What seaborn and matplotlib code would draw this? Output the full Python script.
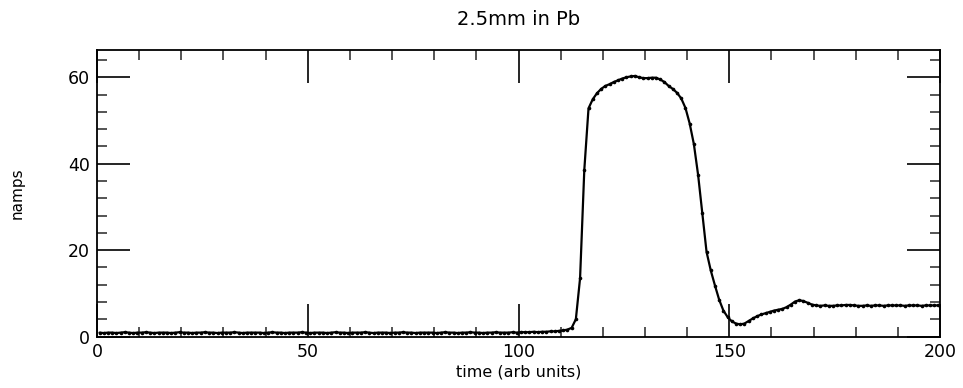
import numpy as np
import pandas as pd
import seaborn as sns
import matplotlib
matplotlib.use("Agg")
import matplotlib.pyplot as plt
from matplotlib.ticker import MultipleLocator

# ---------------- data ----------------
title = "2.5mm in Pb"
x_label = "time (arb units)"
y_label = "namps"
x_ticks = [0, 50, 100, 150, 200]
y_ticks = [0, 20, 40, 60]

# sample times (arb units)
time = [n + 0.6 for n in range(200)]

baseline = [
    0.9, 0.8, 0.9, 0.9, 0.8, 0.9, 1.0, 0.9, 0.8, 0.9,
    0.9, 1.0, 0.9, 0.8, 0.9, 0.9, 0.9, 0.8, 0.9, 1.0,
    0.9, 0.9, 0.8, 0.9, 0.9, 1.0, 0.9, 0.9, 0.8, 0.9,
    0.9, 0.9, 1.0, 0.9, 0.8, 0.9, 0.9, 0.9, 0.9, 0.8,
    0.9, 1.0, 0.9, 0.9, 0.8, 0.9, 0.9, 0.9, 1.0, 0.9,
    0.8, 0.9, 0.9, 0.9, 0.8, 0.9, 1.0, 0.9, 0.9, 0.8,
    0.9, 0.9, 0.9, 1.0, 0.9, 0.8, 0.9, 0.9, 0.9, 0.8,
    0.9, 0.9, 1.0, 0.9, 0.9, 0.8, 0.9, 0.9, 0.9, 0.9,
    0.8, 0.9, 1.0, 0.9, 0.9, 0.8, 0.9, 0.9, 1.0, 0.9,
    0.9, 0.8, 0.9, 0.9, 1.0, 0.9, 0.9, 0.9, 1.0, 0.9,
    1.0, 1.0, 1.0, 1.1, 1.0, 1.1, 1.1, 1.2, 1.2, 1.3,
]
pulse = [
    1.4, 1.6, 2.0, 4.0, 13.5, 38.5, 52.8, 54.9, 56.3, 57.3,
    58.0, 58.4, 58.9, 59.3, 59.7, 60.0, 60.2, 60.3, 60.0, 59.8,
    59.8, 59.9, 59.9, 59.5, 58.9, 58.0, 57.3, 56.4, 55.1, 52.9,
    49.3, 44.5, 37.4, 28.5, 19.6, 15.3, 11.8, 8.5, 6.0, 4.5,
    3.5, 3.0, 2.8, 3.0, 3.6, 4.2, 4.7, 5.1, 5.4, 5.7,
    6.0, 6.2, 6.4, 6.8, 7.4, 8.1, 8.4, 8.2, 7.8, 7.4,
]
tail = [
    7.2, 7.1, 7.2, 7.1, 7.1, 7.2, 7.2, 7.3, 7.3, 7.2,
    7.1, 7.1, 7.2, 7.1, 7.2, 7.2, 7.1, 7.2, 7.2, 7.2,
    7.2, 7.1, 7.2, 7.2, 7.2, 7.1, 7.2, 7.2, 7.2, 7.2,
]
current = baseline + pulse + tail

df = pd.DataFrame({"time": time, "current": current})

# ---------------- figure ----------------
sns.set_theme(style="white")
plt.rcParams["font.family"] = ["DejaVu Sans"]

fig = plt.figure(figsize=(9.63, 3.88), dpi=100)
ax = fig.add_axes([0.1007, 0.1327, 0.8755, 0.7383])

sns.lineplot(data=df, x="time", y="current", ax=ax, color="black",
             linewidth=1.6, marker="o", markersize=2.6,
             markeredgewidth=0, markerfacecolor="black")

ax.set_xlim(0, 200)
ax.set_ylim(0, 66.3)
ax.set_xticks(x_ticks)
ax.set_yticks(y_ticks)
ax.xaxis.set_minor_locator(MultipleLocator(10))
ax.yaxis.set_minor_locator(MultipleLocator(4))

ax.tick_params(which="major", direction="in", length=24, width=1.2,
               top=True, right=True, bottom=True, left=True,
               labelsize=12.5, colors="black", pad=5)
ax.tick_params(which="minor", direction="in", length=7.5, width=1.1,
               top=True, right=True, bottom=True, left=True)

for s in ax.spines.values():
    s.set_color("black")
    s.set_linewidth(1.3)

ax.set_title(title, fontsize=14, pad=18, color="black")
ax.set_xlabel(x_label, fontsize=11.5, labelpad=2, color="black")
ax.set_ylabel(y_label, fontsize=11, labelpad=31, color="black")

fig.savefig("out.png", dpi=100, facecolor="white")
